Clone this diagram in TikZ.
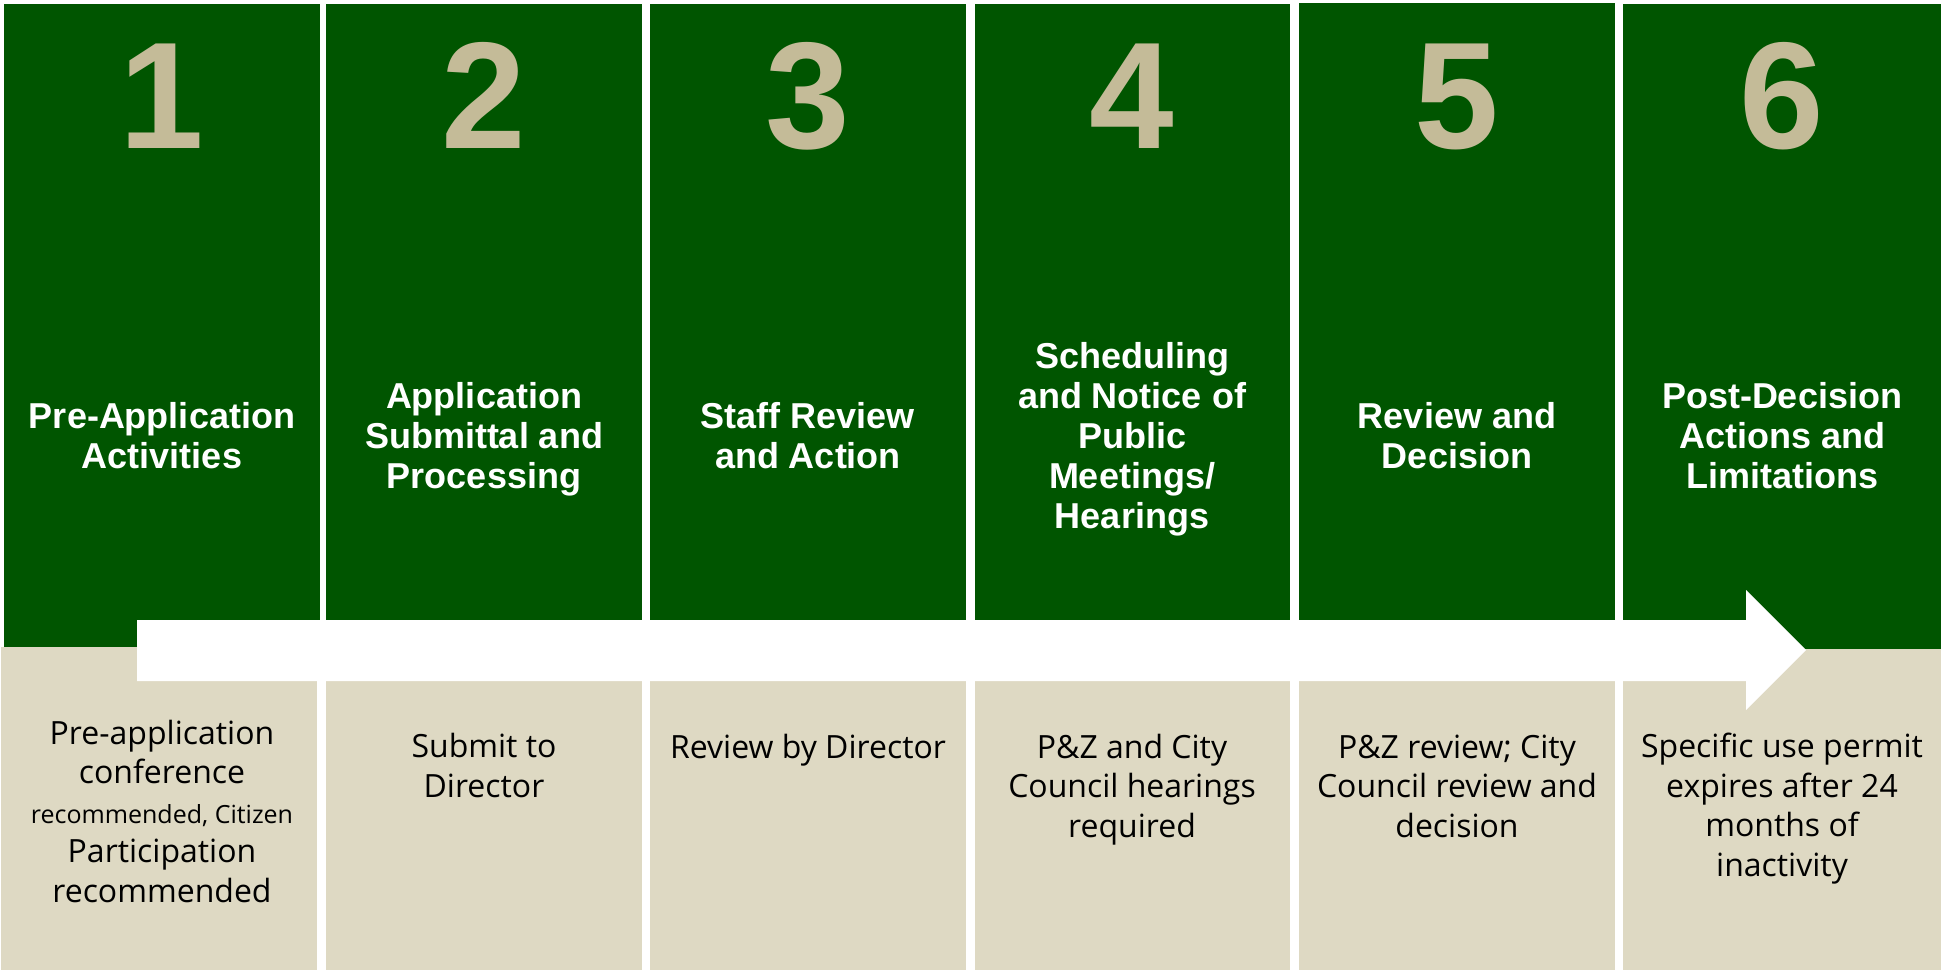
\documentclass[tikz,border=0pt]{standalone}
\usepackage{fontspec}
\newfontfamily\headfont{Liberation Sans}
\newfontfamily\bodyfont{Open Sans}
\definecolor{dkgreen}{RGB}{0,85,0}
\definecolor{numtan}{RGB}{196,187,152}
\definecolor{beige}{RGB}{222,217,195}
\begin{document}
\begin{tikzpicture}[x=1pt,y=-1pt,
  greenbox/.style={fill=dkgreen, draw=none, inner sep=0pt, outer sep=0pt, anchor=north west, minimum height=645},
  beigebox/.style={fill=beige, draw=none, inner sep=0pt, outer sep=0pt, anchor=north west, minimum height=321},
  numtext/.style={text=numtan, font=\headfont\bfseries\fontsize{152}{152}\selectfont, anchor=base, inner sep=0pt},
  headtext/.style={text=white, font=\headfont\bfseries\fontsize{36}{40}\selectfont, align=center, anchor=base, inner sep=0pt},
  bodytext/.style={text=black, font=\bodyfont\fontsize{32}{39.5}\selectfont, align=center, anchor=base, inner sep=0pt}
]
\useasboundingbox (0,0) rectangle (1945,971);
\fill[white] (0,0) rectangle (1945,971);
% green columns
\node[greenbox, minimum width=316] (g1) at (4,4) {};
\node[greenbox, minimum width=316] (g2) at (326,4) {};
\node[greenbox, minimum width=316] (g3) at (650,4) {};
\node[greenbox, minimum width=315] (g4) at (975,4) {};
\node[greenbox, minimum width=316, minimum height=646] (g5) at (1299,3) {};
\node[greenbox, minimum width=318] (g6) at (1623,4) {};
% beige columns
\node[beigebox, minimum width=316, minimum height=323] (b1) at (1,647) {};
\node[beigebox, minimum width=316] (b2) at (326,649) {};
\node[beigebox, minimum width=316] (b3) at (650,649) {};
\node[beigebox, minimum width=315] (b4) at (975,649) {};
\node[beigebox, minimum width=316] (b5) at (1299,649) {};
\node[beigebox, minimum width=318] (b6) at (1623,649) {};
% white arrow
\fill[white] (137,620) -- (1746,620) -- (1746,590) -- (1806,650) -- (1746,710) -- (1746,681) -- (137,681) -- cycle;
% numbers
\node[numtext] (n1) at (162,149) {1};
\node[numtext] (n2) at (484,149) {2};
\node[numtext] (n3) at (808,149) {3};
\node[numtext] (n4) at (1132,149) {4};
\node[numtext] (n5) at (1457,149) {5};
\node[numtext] (n6) at (1782,149) {6};
% headers (anchored at the baseline of the last line)
\node[headtext] (h1) at (162,468) {Pre-Application\\Activities};
\node[headtext] (h2) at (484,488) {Application\\Submittal and\\Processing};
\node[headtext] (h3) at (808,468) {Staff Review\\and Action};
\node[headtext] (h4) at (1132,528) {Scheduling\\and Notice of\\Public\\Meetings/\\Hearings};
\node[headtext] (h5) at (1457,468) {Review and\\Decision};
\node[headtext] (h6) at (1782,488) {Post-Decision\\Actions and\\Limitations};
% body texts (anchored at the baseline of the last line)
\node[bodytext] (t1) at (162,902) {Pre-application\\conference\\{\fontsize{25}{39.5}\selectfont recommended, Citizen}\\Participation\\recommended};
\node[bodytext] (t2) at (484,797) {Submit to\\Director};
\node[bodytext] (t3) at (808,758) {Review by Director};
\node[bodytext] (t4) at (1132,837) {P\&Z and City\\Council hearings\\required};
\node[bodytext] (t5) at (1457,837) {P\&Z review; City\\Council review and\\decision};
\node[bodytext] (t6) at (1782,876) {Specific use permit\\expires after 24\\months of\\inactivity};
\end{tikzpicture}
\end{document}
